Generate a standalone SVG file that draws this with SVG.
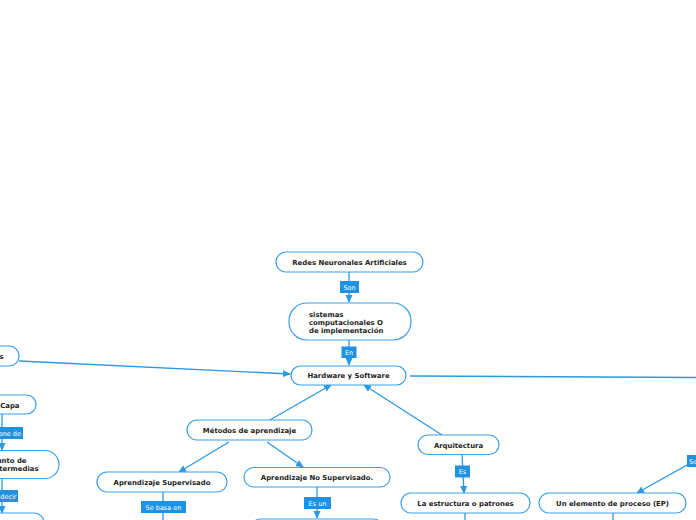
<svg xmlns="http://www.w3.org/2000/svg" width="696" height="520" viewBox="0 0 696 520">
<defs>
<style>
.n{fill:#fff;stroke:#3aa0e8;stroke-width:1.2}
.t{font-family:"DejaVu Sans",Verdana,sans-serif;font-weight:bold;font-size:6.9px;fill:#222}
.c{fill:none;stroke:#2b98e4;stroke-width:1.3}
.lb{fill:#1f93e2}
.lt{font-family:"DejaVu Sans",Verdana,sans-serif;font-size:6.5px;fill:#fff}
</style>
<marker id="a" markerWidth="8" markerHeight="8" refX="7" refY="4" orient="auto" markerUnits="userSpaceOnUse">
<path d="M0,0.5 L8,4 L0,7.5 Z" fill="#2b98e4"/>
</marker>
</defs>
<rect width="696" height="520" fill="#fff"/>
<g id="connectors">
<line class="c" x1="349" y1="272" x2="349" y2="302" marker-end="url(#a)"/>
<line class="c" x1="349" y1="340" x2="349" y2="365" marker-end="url(#a)"/>
<line class="c" x1="19" y1="361" x2="290" y2="374" marker-end="url(#a)"/>
<line class="c" x1="410" y1="376" x2="697" y2="377.5"/>
<line class="c" x1="268" y1="421" x2="331" y2="385" marker-end="url(#a)"/>
<line class="c" x1="442" y1="435" x2="364" y2="385" marker-end="url(#a)"/>
<line class="c" x1="229" y1="442" x2="179" y2="472" marker-end="url(#a)"/>
<line class="c" x1="267" y1="442" x2="303" y2="467" marker-end="url(#a)"/>
<line class="c" x1="462" y1="454" x2="464" y2="493" marker-end="url(#a)"/>
<line class="c" x1="698" y1="459" x2="637" y2="493" marker-end="url(#a)"/>
<line class="c" x1="163" y1="492" x2="163" y2="520"/>
<line class="c" x1="317" y1="487" x2="317" y2="518" marker-end="url(#a)"/>
<line class="c" x1="465" y1="513" x2="465" y2="520"/>
<line class="c" x1="613" y1="513" x2="613" y2="520"/>
<line class="c" x1="2" y1="414" x2="2" y2="450" marker-end="url(#a)"/>
<line class="c" x1="2" y1="479" x2="2" y2="513" marker-end="url(#a)"/>
<g id="labels">
<rect class="lb" x="340" y="281" width="19" height="12"/><text class="lt" x="349.5" y="289.5" text-anchor="middle">Son</text>
<rect class="lb" x="341.5" y="346.5" width="15" height="11.5"/><text class="lt" x="349" y="355" text-anchor="middle">En</text>
<rect class="lb" x="455" y="465.5" width="15" height="12"/><text class="lt" x="462.5" y="474" text-anchor="middle">Es</text>
<rect class="lb" x="687" y="455" width="12" height="12"/><text class="lt" x="689" y="463.5">Se</text>
<rect class="lb" x="141" y="501" width="45" height="12"/><text class="lt" x="163.5" y="509.5" text-anchor="middle">Se basa en</text>
<rect class="lb" x="304" y="497" width="27" height="12"/><text class="lt" x="317.5" y="505.5" text-anchor="middle">Es un</text>
<rect class="lb" x="-10" y="427" width="33" height="12"/><text class="lt" x="21" y="435.5" text-anchor="end">one de</text>
<rect class="lb" x="-10" y="490" width="28" height="12"/><text class="lt" x="16.5" y="498.5" text-anchor="end">decir</text>
</g>
</g>
<g id="n1"><rect class="n" x="276" y="252" width="147" height="20" rx="10"/><text class="t" x="349.5" y="264.5" text-anchor="middle">Redes Neuronales Artificiales</text></g>
<g id="n2"><rect class="n" x="289" y="303" width="122" height="37" rx="18"/>
<text class="t" x="309"><tspan x="309" y="316.5">sistemas</tspan><tspan x="309" y="324.8">computacionales O</tspan><tspan x="309" y="333.3">de implementación</tspan></text></g>
<g id="n3"><rect class="n" x="291" y="366" width="115" height="19" rx="9.5"/><text class="t" x="348.5" y="378" text-anchor="middle">Hardware y Software</text></g>
<g id="n4"><rect class="n" x="-60" y="346" width="79" height="20" rx="10"/><text class="t" x="3.5" y="358.5" text-anchor="end">s</text></g>
<g id="n5"><rect class="n" x="-60" y="395" width="96" height="19" rx="9.5"/><text class="t" x="19.5" y="407.5" text-anchor="end">Capa</text></g>
<g id="n6"><rect class="n" x="-60" y="450.5" width="119" height="28" rx="14"/><text class="t" text-anchor="end"><tspan x="26.5" y="462.5">unto de</tspan><tspan x="38.5" y="471">termedias</tspan></text></g>
<g id="n7"><rect class="n" x="-60" y="513" width="104" height="20" rx="10"/></g>
<g id="n8"><rect class="n" x="187" y="420" width="125" height="20" rx="10"/><text class="t" x="249.5" y="432.5" text-anchor="middle">Métodos de aprendizaje</text></g>
<g id="n9"><rect class="n" x="97" y="472" width="130" height="20" rx="10"/><text class="t" x="162" y="484.5" text-anchor="middle">Aprendizaje Supervisado</text></g>
<g id="n10"><rect class="n" x="244" y="467.5" width="146" height="19.5" rx="9.75"/><text class="t" x="317" y="479.8" text-anchor="middle">Aprendizaje No Supervisado.</text></g>
<g id="n11"><rect class="n" x="418" y="435" width="81" height="19.5" rx="9.75"/><text class="t" x="458.5" y="447.5" text-anchor="middle">Arquitectura</text></g>
<g id="n12"><rect class="n" x="401" y="493" width="129" height="20" rx="10"/><text class="t" x="465.5" y="505.5" text-anchor="middle">La estructura o patrones</text></g>
<g id="n13"><rect class="n" x="539" y="493" width="147" height="20" rx="10"/><text class="t" x="612.5" y="505.5" text-anchor="middle">Un elemento de proceso (EP)</text></g>
<g id="n14"><rect class="n" x="250.5" y="519" width="133" height="20" rx="10"/></g>
</svg>
